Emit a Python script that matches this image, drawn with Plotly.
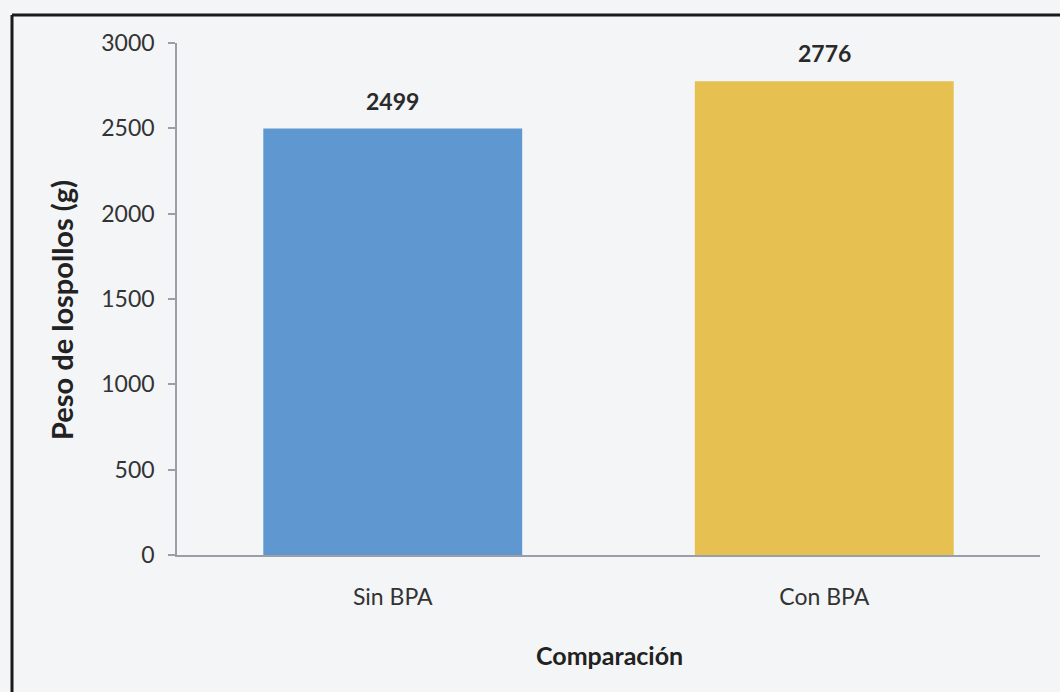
import plotly.graph_objects as go

categories = ["Sin BPA", "Con BPA"]
values = [2499, 2776]
bar_colors = ["#5f97d1", "#e7c052"]
y_ticks = [0, 500, 1000, 1500, 2000, 2500, 3000]

W, H = 1060, 692
L, R, T, B = 177, 20, 43, 137
PW, PH = W - L - R, H - T - B


def px(x):
    return (x - L) / PW


def py(y):
    return (H - B - y) / PH


FONT = "Lato, Open Sans, sans-serif"

fig = go.Figure()
fig.add_trace(go.Bar(
    x=categories, y=values,
    marker=dict(color=bar_colors, line=dict(width=0)),
    width=0.6,
))

for c, v in zip(categories, values):
    fig.add_annotation(x=c, y=v, text=f"<b>{v}</b>", showarrow=False,
                       yanchor="bottom", yshift=12,
                       font=dict(family=FONT, size=23, color="#2a2a2a"))

fig.update_layout(
    width=W, height=H,
    margin=dict(l=L, r=R, t=T, b=B),
    paper_bgcolor="#f4f5f7",
    plot_bgcolor="#f4f5f7",
    showlegend=False,
    font=dict(family=FONT, size=23, color="#333333"),
    xaxis=dict(
        showgrid=False, showline=True, linecolor="#9a9ea6", linewidth=1.5,
        ticks="", tickfont=dict(size=23, color="#333333"),
        ticklabelstandoff=21,
        zeroline=False,
    ),
    yaxis=dict(
        range=[0, 3000], tickvals=y_ticks, showgrid=False,
        showline=True, linecolor="#9a9ea6", linewidth=1.5,
        ticks="outside", ticklen=7, tickcolor="#9a9ea6", tickwidth=1.5,
        tickfont=dict(size=23, color="#333333"),
        ticklabelstandoff=9,
        zeroline=False,
    ),
)

# axis titles
fig.add_annotation(xref="paper", yref="paper", x=px(61), y=py(310), text="<b>Peso de lospollos (g)</b>",
                   textangle=-90, showarrow=False, xanchor="center", yanchor="middle",
                   font=dict(family=FONT, size=29, color="#222222"))
fig.add_annotation(xref="paper", yref="paper", x=px(609), y=py(655), text="<b>Comparación</b>",
                   showarrow=False, xanchor="center", yanchor="middle",
                   font=dict(family=FONT, size=25, color="#222222"))

# scanned frame border (left and top edges)
fig.add_shape(type="line", xref="paper", yref="paper", x0=px(12), x1=px(1062), y0=py(15), y1=py(15),
              line=dict(color="#1a1a1a", width=3))
fig.add_shape(type="line", xref="paper", yref="paper", x0=px(12), x1=px(12), y0=py(15), y1=py(700),
              line=dict(color="#1a1a1a", width=3))

fig.write_html(
    "out.html",
    config={"displayModeBar": False},
    post_script="document.body.style.margin='0';document.body.style.overflow='hidden';",
)
